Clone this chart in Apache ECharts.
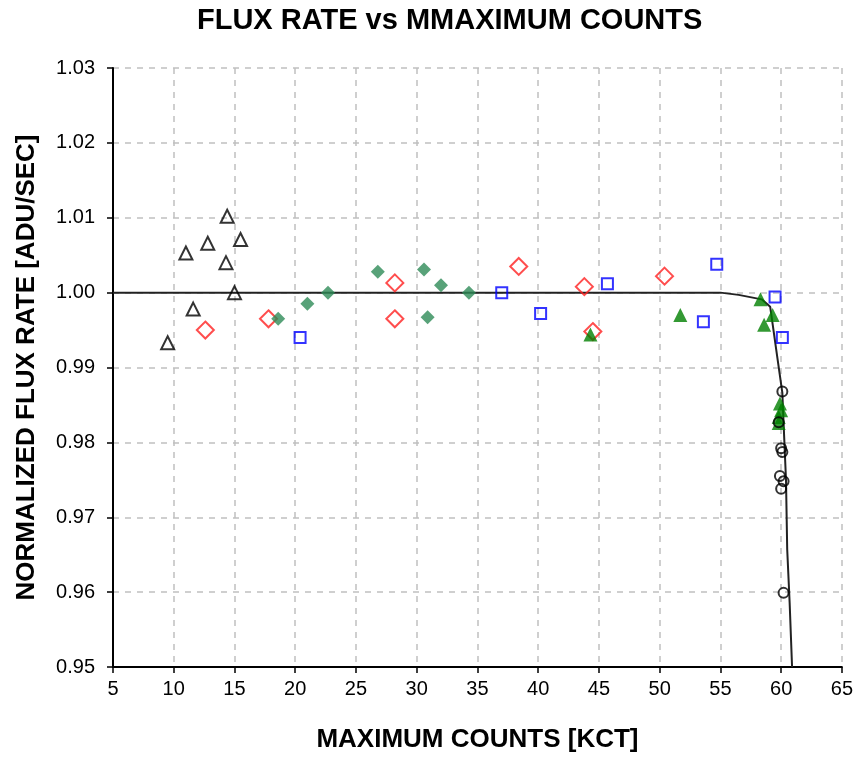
<!DOCTYPE html>
<html>
<head>
<meta charset="utf-8">
<script src="https://cdn.jsdelivr.net/npm/echarts@6/dist/echarts.min.js"></script>
<style>
html, body { margin: 0; padding: 0; background: #fff; }
#chart { width: 856px; height: 759px; }
</style>
</head>
<body>
<div id="chart"></div>
<script>
// data: [max counts (KCT), normalized flux rate]
var blackTri = [[9.5, 0.9933], [11.0, 1.0053], [11.6, 0.9978], [12.8, 1.0066], [14.4, 1.0102], [14.3, 1.0040], [15.0, 1.0000], [15.5, 1.0071]];
var redDiamond = [[12.6, 0.9950], [17.8, 0.9965], [28.2, 1.0013], [28.2, 0.9965], [38.4, 1.0035], [43.8, 1.0008], [44.5, 0.9948], [50.4, 1.0022]];
var greenDiamond = [[18.6, 0.9965], [21.0, 0.9985], [22.7, 1.0000], [26.8, 1.0028], [30.6, 1.0031], [32.0, 1.0010], [34.3, 1.0000], [30.9, 0.9967]];
var blueSquare = [[20.4, 0.9940], [37.0, 1.0000], [40.2, 0.9972], [45.7, 1.0012], [54.7, 1.0038], [53.6, 0.9961], [59.5, 0.9994], [60.1, 0.9940]];
var greenTri = [[44.3, 0.9944], [51.7, 0.9970], [58.3, 0.9991], [58.6, 0.9957], [59.3, 0.9970], [59.9, 0.9852], [60.0, 0.9843], [59.8, 0.9834], [59.8, 0.9826]];
var blackCircle = [[60.1, 0.9868], [59.8, 0.9827], [60.0, 0.9792], [60.1, 0.9787], [59.9, 0.9755], [60.2, 0.9748], [60.0, 0.9738], [60.2, 0.9599]];
var fitLine = [[5, 1.0], [55.0, 1.0], [56.5, 0.9997], [58.4, 0.9991], [59.1, 0.9981], [59.5, 0.9935], [59.7, 0.9912], [60.1, 0.9866], [60.2, 0.9826], [60.4, 0.9750], [60.5, 0.9657], [60.7, 0.9586], [60.9, 0.9500]];

var xTicks = [5, 10, 15, 20, 25, 30, 35, 40, 45, 50, 55, 60, 65];
var yTicks = [0.95, 0.96, 0.97, 0.98, 0.99, 1.00, 1.01, 1.02, 1.03];

var font = 'Liberation Sans, Arial, sans-serif';
var chart = echarts.init(document.getElementById('chart'));

function openMark(name, symbol, size, color, data) {
	return {
		name: name,
		type: 'scatter',
		symbol: symbol,
		symbolSize: size,
		itemStyle: { color: 'rgba(255,255,255,0)', borderColor: color, borderWidth: 2 },
		data: data,
		z: 3
	};
}

chart.setOption({
	animation: false,
	title: {
		text: 'FLUX RATE vs MMAXIMUM COUNTS',
		left: 192,
		top: 1,
		textStyle: { fontFamily: font, fontSize: 29, fontWeight: 'bold', color: '#000' }
	},
	grid: { left: 113, right: 13, top: 68, bottom: 92 },
	xAxis: {
		type: 'value',
		min: xTicks[0],
		max: xTicks[xTicks.length - 1],
		interval: 5,
		name: 'MAXIMUM COUNTS [KCT]',
		nameLocation: 'middle',
		nameGap: 60,
		nameTextStyle: { fontFamily: font, fontSize: 26, fontWeight: 'bold', color: '#000' },
		axisLine: { onZero: false, lineStyle: { color: '#000', width: 2 } },
		axisTick: { length: 6, lineStyle: { color: '#000', width: 1.5 } },
		axisLabel: { fontFamily: font, fontSize: 20, color: '#000', margin: 12 },
		splitLine: { lineStyle: { color: '#c0c0c0', type: [6, 6], width: 1.5 } }
	},
	yAxis: {
		type: 'value',
		min: yTicks[0],
		max: yTicks[yTicks.length - 1],
		interval: 0.01,
		name: 'NORMALIZED FLUX RATE [ADU/SEC]',
		nameLocation: 'middle',
		nameGap: 73,
		nameTextStyle: { fontFamily: font, fontSize: 26, fontWeight: 'bold', color: '#000' },
		axisLine: { show: true, onZero: false, lineStyle: { color: '#000', width: 2 } },
		axisTick: { show: true, length: 6, lineStyle: { color: '#000', width: 1.5 } },
		axisLabel: { fontFamily: font, fontSize: 20, color: '#000', margin: 18, formatter: function (v) { return v.toFixed(2); } },
		splitLine: { lineStyle: { color: '#c0c0c0', type: [6, 6], width: 1.5 } }
	},
	series: [
		{
			name: 'fit',
			type: 'line',
			data: fitLine,
			symbol: 'none',
			lineStyle: { color: '#222', width: 2 },
			z: 2
		},
		openMark('A', 'triangle', 13, '#000', blackTri),
		openMark('B', 'diamond', 17, '#ff2020', redDiamond),
		{
			name: 'C',
			type: 'scatter',
			symbol: 'diamond',
			symbolSize: 14,
			itemStyle: { color: '#2e8b57' },
			data: greenDiamond,
			z: 3
		},
		openMark('D', 'rect', 11, '#0000ff', blueSquare),
		{
			name: 'E',
			type: 'scatter',
			symbol: 'triangle',
			symbolSize: 14,
			itemStyle: { color: '#008000' },
			data: greenTri,
			z: 3
		},
		openMark('F', 'circle', 10, '#000', blackCircle)
	]
});
</script>
</body>
</html>
